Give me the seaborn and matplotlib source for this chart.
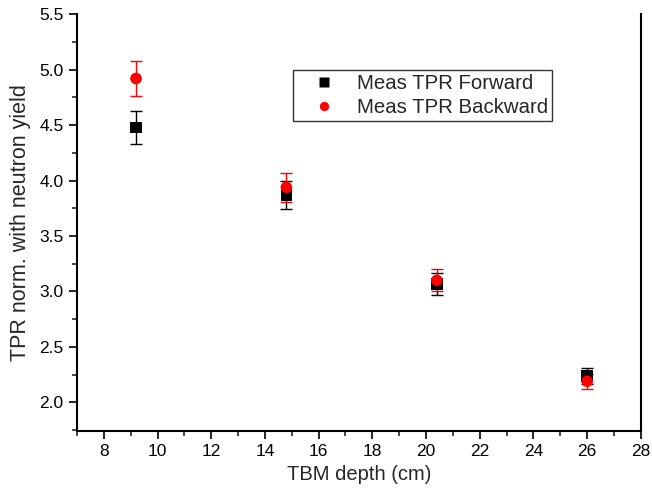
import matplotlib
matplotlib.use("Agg")
import matplotlib.pyplot as plt
import seaborn as sns
import pandas as pd
from matplotlib.ticker import MultipleLocator

depth = [9.2, 14.8, 20.4, 26.0]
fwd = [4.48, 3.87, 3.07, 2.24]
fwd_err = [0.15, 0.13, 0.10, 0.07]
bwd = [4.92, 3.94, 3.10, 2.19]
bwd_err = [0.16, 0.13, 0.10, 0.07]
series_names = ["Meas TPR Forward", "Meas TPR Backward"]

sns.set_style("ticks")
plt.rcParams['font.family'] = ['Liberation Sans', 'DejaVu Sans']

df = pd.DataFrame({
    "depth": depth * 2,
    "tpr": fwd + bwd,
    "err": fwd_err + bwd_err,
    "series": [series_names[0]] * 4 + [series_names[1]] * 4,
})

fig = plt.figure(figsize=(6.52, 4.90), dpi=100)
ax = fig.add_axes([0.118, 0.120, 0.865, 0.851])

colors = {series_names[0]: "black", series_names[1]: "#ff0000"}
markers = {series_names[0]: "s", series_names[1]: "o"}

for name in series_names:
    sub = df[df.series == name]
    ax.errorbar(sub.depth, sub.tpr, yerr=sub.err, fmt="none", ecolor=colors[name],
                elinewidth=1.0, capsize=4, capthick=1.0, zorder=2)

sns.scatterplot(data=df, x="depth", y="tpr", hue="series", style="series",
                palette=colors, markers=markers, s=70, edgecolor="none",
                ax=ax, zorder=3, legend=True)

ax.set_xlim(7, 28)
ax.set_ylim(1.74, 5.5)
ax.set_xticks(range(8, 29, 2))
ax.set_yticks([2.0, 2.5, 3.0, 3.5, 4.0, 4.5, 5.0, 5.5])
ax.xaxis.set_minor_locator(MultipleLocator(1))
ax.yaxis.set_minor_locator(MultipleLocator(0.25))
ax.tick_params(which="major", direction="out", length=6, width=1.2, labelsize=12.5, colors="black")
ax.tick_params(which="minor", direction="out", length=3.5, width=1.2)

for s in ["left", "bottom", "right"]:
    ax.spines[s].set_linewidth(1.5)
    ax.spines[s].set_color("black")
ax.spines["top"].set_visible(False)

ax.set_xlabel("TBM depth (cm)", fontsize=14.5)
ax.set_ylabel("TPR norm. with neutron yield", fontsize=15.5, labelpad=6)

leg = ax.legend(loc="upper left", bbox_to_anchor=(0.383, 0.866), borderaxespad=0,
                fontsize=14.7, frameon=True, fancybox=False, edgecolor="black",
                borderpad=0.2, handletextpad=0.35, labelspacing=0.22,
                handlelength=2.6, markerscale=0.8)
leg.get_frame().set_linewidth(1.0)

fig.savefig("out.png", dpi=100)
